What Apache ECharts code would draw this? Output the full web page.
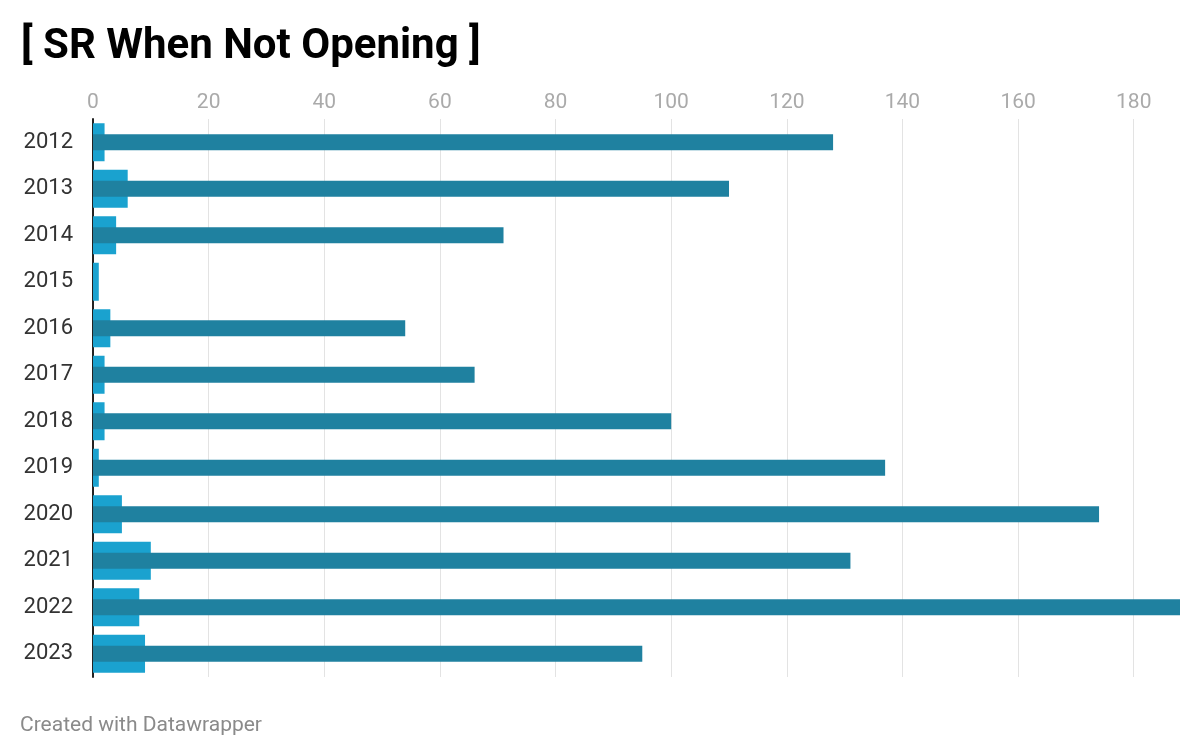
<!DOCTYPE html>
<html>
<head>
<meta charset="utf-8">
<script src="https://cdn.jsdelivr.net/npm/echarts@6/dist/echarts.min.js"></script>
<style>
html,body{margin:0;padding:0;background:#fff;}
#chart{width:1200px;height:755px;}
</style>
</head>
<body>
<div id="chart"></div>
<script>
const years = ['2012','2013','2014','2015','2016','2017','2018','2019','2020','2021','2022','2023'];
const lightValues = [2, 6, 4, 1, 3, 2, 2, 1, 5, 10, 8, 9];
const darkValues = [128, 110, 71, null, 54, 66, 100, 137, 174, 131, 188, 95];
const xTicks = { min: 0, max: 188, interval: 20 };

const chart = echarts.init(document.getElementById('chart'));
const font = 'Roboto, "Noto Sans", sans-serif';
chart.setOption({
  animation: false,
  backgroundColor: '#ffffff',
  title: [
    { text: '[ SR When Not Opening ]', left: 16, top: 21,
      textStyle: { fontFamily: font, fontWeight: 700, fontSize: 42, color: '#000' } },
    { text: 'Created with Datawrapper', left: 15, top: 710,
      textStyle: { fontFamily: font, fontWeight: 400, fontSize: 21, color: '#8a8a8a' } }
  ],
  grid: { left: 93, right: 20, top: 119, bottom: 78, containLabel: false },
  xAxis: {
    type: 'value', position: 'top', min: xTicks.min, max: xTicks.max, interval: xTicks.interval,
    axisLine: { show: false }, axisTick: { show: false },
    axisLabel: { color: '#aaaaaa', fontFamily: font, fontSize: 21, margin: 6, showMaxLabel: false },
    splitLine: { show: true, showMaxLine: false, lineStyle: { color: '#e3e3e3', width: 1 } }
  },
  yAxis: [
    { type: 'category', data: years, inverse: true,
      axisLine: { show: true, lineStyle: { color: '#222', width: 2 } },
      axisTick: { show: false },
      axisLabel: { color: '#333', fontFamily: font, fontSize: 22, margin: 20 } },
    { type: 'category', data: years, inverse: true, show: false, position: 'left' }
  ],
  series: [
    { type: 'bar', yAxisIndex: 0, data: lightValues, barWidth: 38,
      itemStyle: { color: '#1aa2cf' }, z: 2 },
    { type: 'bar', yAxisIndex: 1, data: darkValues, barWidth: 16,
      itemStyle: { color: '#1f81a0' }, z: 3 }
  ]
});
</script>
</body>
</html>
